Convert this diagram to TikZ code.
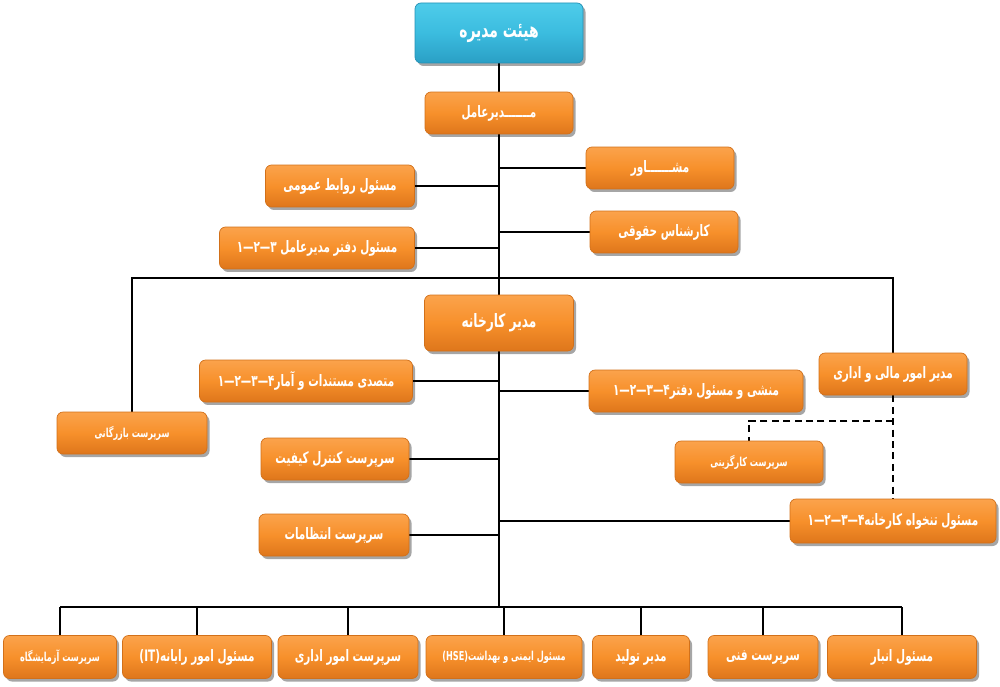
\documentclass[tikz,border=0pt]{standalone}
\usepackage{fontspec}
\newfontfamily\fa[Script=Arabic, FakeStretch=0.66]{DejaVu Sans}
\TeXXeTstate=1
\usetikzlibrary{shadows}
\pgfdeclarelayer{bg}\pgfsetlayers{bg,main}
\definecolor{otop}{HTML}{FBA34C}
\definecolor{omid}{HTML}{F7902B}
\definecolor{obot}{HTML}{DE761B}
\definecolor{oedge}{HTML}{D27019}
\definecolor{ctop}{HTML}{4ECCEA}
\definecolor{cmid}{HTML}{3BBCDF}
\definecolor{cbot}{HTML}{2A9FC5}
\definecolor{cedge}{HTML}{2591B5}
\newcommand\dd{\hbox{—}}
\newcommand\dg[1]{\hbox{#1}}
\tikzset{
 box/.style={draw=oedge, line width=0.4pt, rounded corners=0.12cm,
   top color=otop, bottom color=obot, middle color=omid,
   minimum height=0.84cm, text=white, inner xsep=3pt, inner ysep=0pt,
   font=\fa\bfseries\fontsize{9}{10}\selectfont,
   drop shadow={shadow xshift=0.05cm, shadow yshift=-0.06cm, opacity=0.35, fill=black}},
 cbox/.style={box, draw=cedge, top color=ctop, bottom color=cbot, middle color=cmid,
   font=\fa\bfseries\fontsize{12}{14}\selectfont},
 big/.style={font=\fa\bfseries\fontsize{10.5}{12}\selectfont},
 small/.style={font=\fa\bfseries\fontsize{7}{8}\selectfont},
 bw/.style={minimum width=#1*0.02cm},
 bh/.style={minimum height=#1*0.02cm},
 conn/.style={line width=1.4pt, black},
 dconn/.style={line width=1.4pt, black, dash pattern=on 4pt off 2.5pt}
}
\begin{document}
\begin{tikzpicture}[x=0.02cm, y=-0.02cm]
\useasboundingbox (0,0) rectangle (1000,686);
% top
\node[cbox,bw=168,bh=60] (board) at (499,33) {\beginR هیئت مدیره\endR};
\node[box,bw=148] (ceo) at (499,113) {\beginR مـــــــدیرعامل\endR};
\node[box,bw=148] (moshaver) at (660,168) {\beginR مشـــــــاور\endR};
\node[box,bw=149] (ravabet) at (340,186) {\beginR مسئول روابط عمومی\endR};
\node[box,bw=148] (hoghoghi) at (664,232) {\beginR کارشناس حقوقی\endR};
\node[box,bw=195] (daftar) at (317,248) {\dg{۱}\dd\dg{۲}\dd\dg{۳} \beginR مسئول دفتر مدیرعامل\endR};
% middle
\node[box,big,bw=149,bh=56] (factory) at (499,323) {\beginR مدیر کارخانه\endR};
\node[box,bw=213] (motasadi) at (306,381) {\dg{۱}\dd\dg{۲}\dd\dg{۳}\dd\dg{۴}\beginR متصدی مستندات و آمار\endR};
\node[box,bw=214] (monshi) at (696,391) {\dg{۱}\dd\dg{۲}\dd\dg{۳}\dd\dg{۴}\beginR منشی و مسئول دفتر\endR};
\node[box,bw=148] (mali) at (893,374) {\beginR مدیر امور مالی و اداری\endR};
\node[box,small,bw=150] (bazargani) at (132,433) {\beginR سرپرست بازرگانی\endR};
\node[box,small,bw=148] (kargozini) at (749,462) {\beginR سرپرست کارگزینی\endR};
\node[box,bw=148] (kontrol) at (335,459) {\beginR سرپرست کنترل کیفیت\endR};
\node[box,bw=150] (entezamat) at (334,535) {\beginR سرپرست انتظامات\endR};
\node[box,bw=206,bh=44] (tankhah) at (893,521) {\dg{۱}\dd\dg{۲}\dd\dg{۳}\dd\dg{۴}\beginR مسئول تنخواه کارخانه\endR};
% bottom
\node[box,small,bw=113,bh=43] (lab) at (60,657) {\beginR سرپرست آزمایشگاه\endR};
\node[box,bw=149,bh=43] (it) at (197,657) {(IT)\beginR مسئول امور رایانه\endR};
\node[box,bw=140,bh=43] (edari) at (348,657) {\beginR سرپرست امور اداری\endR};
\node[box,small,bw=156,bh=43] (hse) at (504,657) {(HSE)\beginR مسئول ایمنی و بهداشت\endR};
\node[box,bw=97,bh=43] (tolid) at (641,657) {\beginR مدیر تولید\endR};
\node[box,bw=110,bh=43] (fanni) at (763,657) {\beginR سرپرست فنی\endR};
\node[box,bw=149,bh=43] (anbar) at (902,657) {\beginR مسئول انبار\endR};
% junctions
\coordinate (bus1) at (499,278);
\coordinate (main) at (499,607);
\coordinate (dj) at (893,421);
\begin{pgfonlayer}{bg}
\draw[conn] (board.south) -- (ceo.north);
\draw[conn] (ceo.south) -- (main);
\draw[conn] (moshaver.west) -- (moshaver.west -| main);
\draw[conn] (ravabet.east) -- (ravabet.east -| main);
\draw[conn] (hoghoghi.west) -- (hoghoghi.west -| main);
\draw[conn] (daftar.east) -- (daftar.east -| main);
\draw[conn] (bazargani.north) -- (bazargani.north |- bus1) -- (bus1 -| mali.north) -- (mali.north);
\draw[conn] (motasadi.east) -- (motasadi.east -| main);
\draw[conn] (monshi.west) -- (monshi.west -| main);
\draw[conn] (kontrol.east) -- (kontrol.east -| main);
\draw[conn] (entezamat.east) -- (entezamat.east -| main);
\draw[conn] (tankhah.west) -- (tankhah.west -| main);
\draw[dconn] (mali.south) -- (tankhah.north);
\draw[dconn] (dj) -- (dj -| kargozini.north) -- (kargozini.north);
\draw[conn] (lab.north |- main) -- (anbar.north |- main);
\foreach \n in {lab,it,edari,hse,tolid,fanni,anbar}
  \draw[conn] (\n.north) -- (\n.north |- main);
\end{pgfonlayer}
\end{tikzpicture}
\end{document}
